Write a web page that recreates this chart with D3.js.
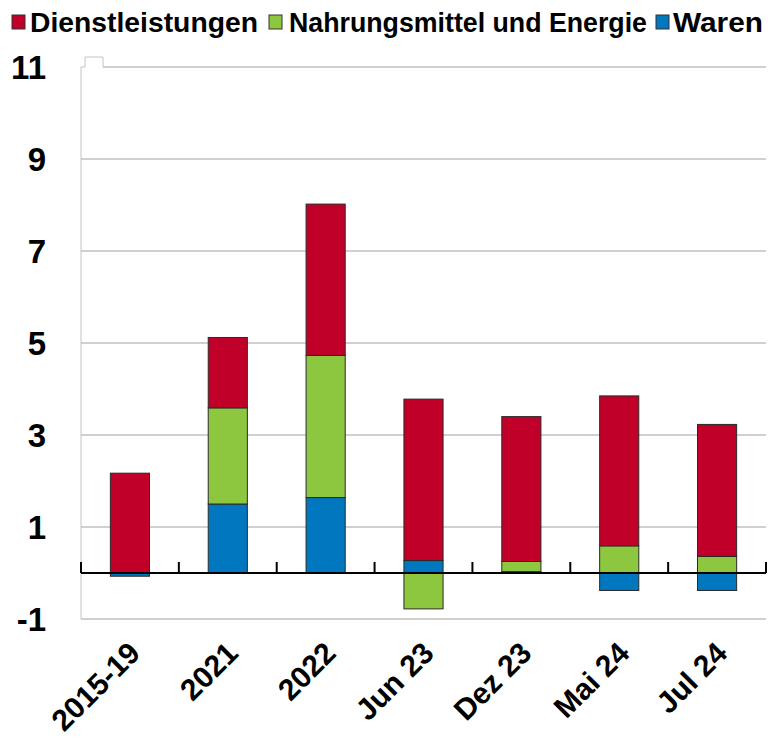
<!DOCTYPE html>
<html>
<head>
<meta charset="utf-8">
<script src="https://cdn.jsdelivr.net/npm/d3@7/dist/d3.min.js"></script>
<style>
  html, body { margin: 0; padding: 0; background: #fff; }
  svg { display: block; font-family: "Liberation Sans", Arial, sans-serif; }
</style>
</head>
<body>
<svg id="chart" width="768" height="737"></svg>
<script>
// ---- data ----
const categories = ["2015-19", "2021", "2022", "Jun 23", "Dez 23", "Mai 24", "Jul 24"];
const waren      = [-0.07, 1.50, 1.64, 0.27, 0.03, -0.38, -0.38];
const nahrung    = [0.00, 2.09, 3.09, -0.78, 0.22, 0.59, 0.36];
const dienst     = [2.17, 1.53, 3.29, 3.51, 3.15, 3.26, 2.87];
const seriesNames = ["Dienstleistungen", "Nahrungsmittel und Energie", "Waren"];
const yTicks = [-1, 1, 3, 5, 7, 9, 11];

const colors = {
  "Dienstleistungen": "#C00028",
  "Nahrungsmittel und Energie": "#8DC63F",
  "Waren": "#0077BE"
};

const rows = categories.map((c, i) => ({
  cat: c,
  "Waren": waren[i],
  "Nahrungsmittel und Energie": nahrung[i],
  "Dienstleistungen": dienst[i]
}));

const svg = d3.select("#chart");
const pLeft = 81, pRight = 766, pTop = 67, pBottom = 619;

const x = d3.scaleBand().domain(categories).range([pLeft, pRight]).padding(0);
const y = d3.scaleLinear().domain([-1, 11]).range([pBottom, pTop]);

// gridlines
svg.append("g")
  .selectAll("line")
  .data(yTicks)
  .join("line")
  .attr("x1", d => d === 11 ? 103 : pLeft)
  .attr("x2", pRight)
  .attr("y1", d => y(d))
  .attr("y2", d => y(d))
  .attr("stroke", "#d0d0d0")
  .attr("stroke-width", 2);

// left frame line and small tab at top-left
svg.append("path")
  .attr("d", `M${pLeft},${pBottom} L${pLeft},${y(11)} L85,${y(11)} L85,${y(11) - 10} L103,${y(11) - 10} L103,${y(11)}`)
  .attr("fill", "none")
  .attr("stroke", "#c4c4c4")
  .attr("stroke-width", 1);

// stacked bars
const stack = d3.stack()
  .keys(["Waren", "Nahrungsmittel und Energie", "Dienstleistungen"])
  .offset(d3.stackOffsetDiverging);
const stacked = stack(rows);
const barW = x.bandwidth() * 0.4;

svg.append("g")
  .selectAll("g")
  .data(stacked)
  .join("g")
  .attr("fill", d => colors[d.key])
  .selectAll("rect")
  .data(d => d)
  .join("rect")
  .attr("x", d => x(d.data.cat) + (x.bandwidth() - barW) / 2)
  .attr("width", barW)
  .attr("y", d => y(Math.max(d[0], d[1])))
  .attr("height", d => Math.abs(y(d[0]) - y(d[1])))
  .attr("stroke", "#2a2a2a")
  .attr("stroke-width", 1);

// zero line and category boundary ticks
svg.append("line")
  .attr("x1", pLeft).attr("x2", pRight)
  .attr("y1", y(0)).attr("y2", y(0))
  .attr("stroke", "#000").attr("stroke-width", 2);

const bounds = categories.map(c => x(c)).concat([x.range()[1]]);
svg.append("g")
  .selectAll("line")
  .data(bounds)
  .join("line")
  .attr("x1", d => d).attr("x2", d => d)
  .attr("y1", y(0)).attr("y2", y(0) - 11)
  .attr("stroke", "#000").attr("stroke-width", 2);

// y axis labels
const yAxis = svg.append("g")
  .attr("transform", `translate(${pLeft},0)`)
  .call(d3.axisLeft(y).tickValues(yTicks).tickSize(0).tickPadding(35).tickFormat(d => String(d)));
yAxis.select(".domain").remove();
yAxis.selectAll("text")
  .attr("font-family", "'Liberation Sans', Arial, sans-serif")
  .attr("font-size", 33)
  .attr("font-weight", "bold")
  .attr("fill", "#000")
  .attr("dy", "0.35em");

// x axis labels
const xAxis = svg.append("g")
  .attr("transform", `translate(0,${y(0)})`)
  .call(d3.axisBottom(x).tickSize(0).tickPadding(0));
xAxis.select(".domain").remove();
xAxis.selectAll("text")
  .attr("font-family", "'Liberation Sans', Arial, sans-serif")
  .attr("font-size", 30)
  .attr("font-weight", "bold")
  .attr("fill", "#000")
  .attr("text-anchor", "end")
  .attr("dy", null)
  .attr("y", null)
  .attr("transform", "translate(12,82) rotate(-45)");

// legend
const legendPos = {
  "Dienstleistungen": [12, 30, 228],
  "Nahrungsmittel und Energie": [269, 289, 358],
  "Waren": [656, 673, 90]
};
const legend = svg.append("g");
seriesNames.forEach(name => {
  const [sx, tx, tw] = legendPos[name];
  legend.append("rect")
    .attr("x", sx).attr("y", 15).attr("width", 13).attr("height", 14)
    .attr("fill", colors[name]).attr("stroke", "#333").attr("stroke-width", 1);
  legend.append("text")
    .attr("x", tx).attr("y", 32)
    .attr("font-size", 28)
    .attr("font-weight", "bold")
    .attr("fill", "#000")
    .attr("textLength", tw)
    .attr("lengthAdjust", "spacingAndGlyphs")
    .text(name);
});
</script>
</body>
</html>
